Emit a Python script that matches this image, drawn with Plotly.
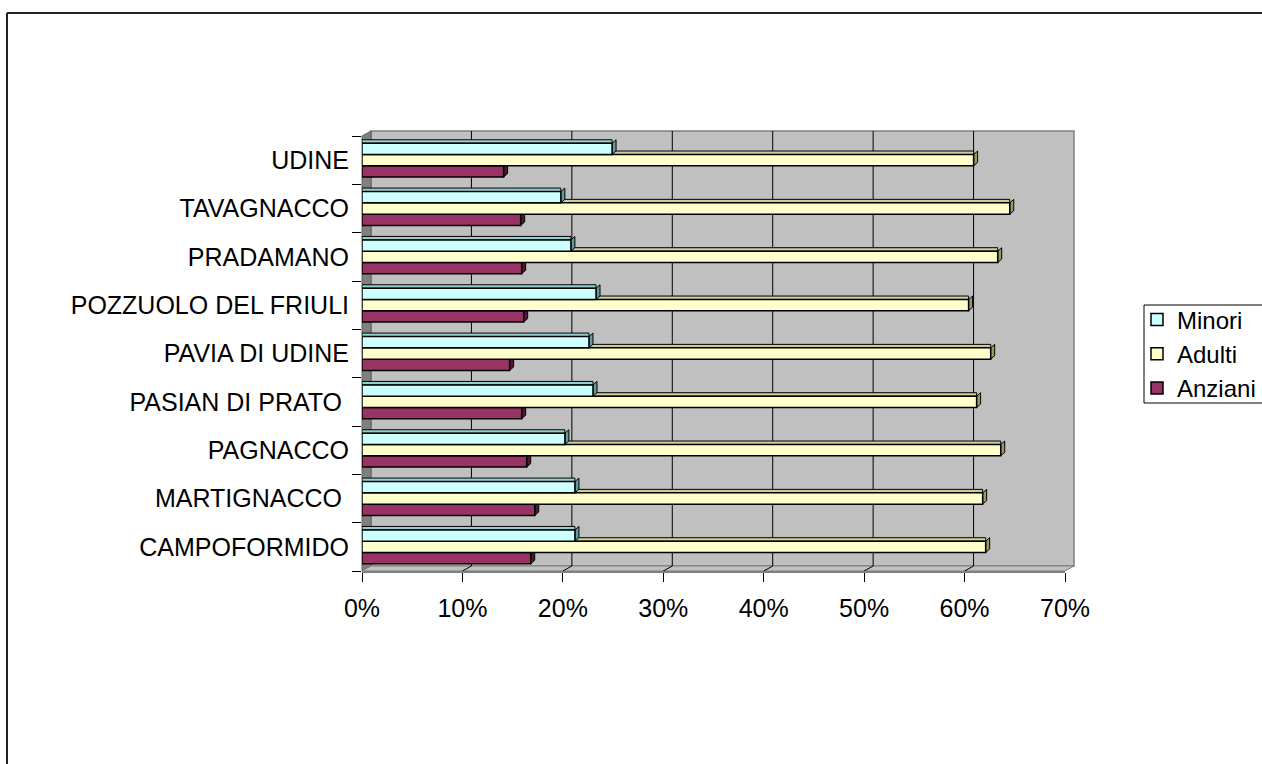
import plotly.graph_objects as go

# ---------------- data ----------------
categories = ["CAMPOFORMIDO", "MARTIGNACCO\u00a0", "PAGNACCO", "PASIAN DI PRATO\u00a0",
              "PAVIA DI UDINE", "POZZUOLO DEL FRIULI", "PRADAMANO", "TAVAGNACCO", "UDINE"]
minori = [0.212, 0.212, 0.202, 0.230, 0.226, 0.233, 0.208, 0.198, 0.249]
adulti = [0.621, 0.618, 0.636, 0.612, 0.626, 0.604, 0.633, 0.645, 0.609]
anziani = [0.168, 0.172, 0.164, 0.159, 0.147, 0.161, 0.159, 0.158, 0.141]
x_ticks = [0, 0.1, 0.2, 0.3, 0.4, 0.5, 0.6, 0.7]

# ---------------- geometry / style ----------------
W, H = 1262, 764
L, R, T, B = 362, 197, 136, 193
PW, PH = W - L - R, H - T - B
DX, DY = 9, 5            # wall depth offset in px
FONT = "Liberation Sans, Arial, sans-serif"
FS = 25

bw = 0.2333
series = [  # name, values, front, top face, side face, offset
    ("Anziani", anziani, "#993366", "#6b2447", "#4d1a33", -0.35),
    ("Adulti", adulti, "#FFFFCC", "#CCCC99", "#999966", -0.1167),
    ("Minori", minori, "#CCFFFF", "#99CCCC", "#669999", 0.1167),
]

def px_x(p):
    return (p - L) / PW

def px_y(p):
    return (H - B - p) / PH

fig = go.Figure()
for name, vals, col, topc, sidec, off in series:
    fig.add_trace(go.Bar(
        y=categories, x=vals, name=name, orientation="h",
        marker=dict(color=col, line=dict(color="black", width=1.5)),
        width=bw, offset=off,
    ))

shapes = []
# outer chart border (only top and left edges are inside the window)
shapes.append(dict(type="line", xref="paper", yref="paper",
                   x0=px_x(7), x1=px_x(W + 20), y0=px_y(13), y1=px_y(13),
                   line=dict(color="#222222", width=2), layer="below"))
shapes.append(dict(type="line", xref="paper", yref="paper",
                   x0=px_x(7), x1=px_x(7), y0=px_y(13), y1=px_y(H + 20),
                   line=dict(color="#222222", width=2), layer="below"))
# legend box
shapes.append(dict(type="rect", xref="paper", yref="paper",
                   x0=px_x(1144), x1=px_x(W + 40), y0=px_y(305), y1=px_y(403),
                   line=dict(color="black", width=1), fillcolor="white", layer="below"))
# back wall
shapes.append(dict(type="rect", xref="paper", yref="paper",
                   x0=px_x(L + DX), x1=px_x(L + PW + DX), y0=px_y(H - B - DY), y1=px_y(T - DY),
                   line=dict(color="#808080", width=1.5), fillcolor="#C0C0C0", layer="below"))
# left side wall
shapes.append(dict(type="path", xref="paper", yref="paper",
                   path=f"M{px_x(L)},{px_y(T)} L{px_x(L+DX)},{px_y(T-DY)} L{px_x(L+DX)},{px_y(H-B-DY)} L{px_x(L)},{px_y(H-B)} Z",
                   line=dict(color="#606060", width=1), fillcolor="#808080", layer="below"))
# floor
shapes.append(dict(type="path", xref="paper", yref="paper",
                   path=f"M{px_x(L)},{px_y(H-B)} L{px_x(L+DX)},{px_y(H-B-DY)} L{px_x(L+PW+DX)},{px_y(H-B-DY)} L{px_x(L+PW)},{px_y(H-B)} Z",
                   line=dict(color="#808080", width=1), fillcolor="#C0C0C0", layer="below"))
# back-wall gridlines and floor diagonals
for v in x_ticks[1:-1]:
    shapes.append(dict(type="line", xref="x", xsizemode="pixel", xanchor=v, x0=DX, x1=DX,
                       yref="paper", y0=px_y(H - B - DY), y1=px_y(T - DY),
                       line=dict(color="black", width=1), layer="below"))
    shapes.append(dict(type="path", xref="x", xsizemode="pixel", xanchor=v,
                       yref="paper", path=f"M0,{px_y(H-B)} L{DX},{px_y(H-B-DY)}",
                       line=dict(color="black", width=1), layer="below"))

# 3D faces of the bars
cat_px = PH / len(categories)
hpx = bw * cat_px
for name, vals, col, topc, sidec, off in series:
    for j, v in enumerate(vals):
        shapes.append(dict(type="rect", xref="x", yref="y", x0=0, x1=v,
                           ysizemode="pixel", yanchor=j + off + bw, y0=0, y1=3.5,
                           line=dict(color="black", width=1), fillcolor=topc, layer="below"))
        shapes.append(dict(type="path", xref="x", yref="y",
                           xsizemode="pixel", xanchor=v, ysizemode="pixel", yanchor=j + off,
                           path=f"M0,0 L4,3.5 L4,{hpx+3.5:.2f} L0,{hpx:.2f} Z",
                           line=dict(color="black", width=1), fillcolor=sidec, layer="below"))

fig.update_layout(
    width=W, height=H,
    margin=dict(l=L, r=R, t=T, b=B, pad=0, autoexpand=False),
    paper_bgcolor="white", plot_bgcolor="rgba(0,0,0,0)",
    barmode="overlay",
    font=dict(family=FONT, size=FS, color="black"),
    shapes=shapes,
    showlegend=True,
    legend=dict(x=px_x(1137), xanchor="left", y=px_y(354), yanchor="middle",
                traceorder="reversed", borderwidth=0,
                bgcolor="rgba(0,0,0,0)", font=dict(family=FONT, size=24), itemwidth=30,
                tracegroupgap=0),
    xaxis=dict(range=[0, 0.7], tickvals=x_ticks, tickformat=".0%", showgrid=False,
               zeroline=False, showline=True, linecolor="#808080", linewidth=1.5,
               ticks="outside", ticklen=9, tickcolor="black", tickwidth=1,
               ticklabelstandoff=5, tickfont=dict(family=FONT, size=FS)),
    yaxis=dict(type="category", categoryorder="array", categoryarray=categories,
               range=[-0.5, len(categories) - 0.5], showgrid=False, zeroline=False,
               showline=False, ticks="outside", ticklen=9, tickcolor="black",
               tickson="boundaries", ticklabelstandoff=12, tickfont=dict(family=FONT, size=FS)),
)

fig.write_html("out.html")
